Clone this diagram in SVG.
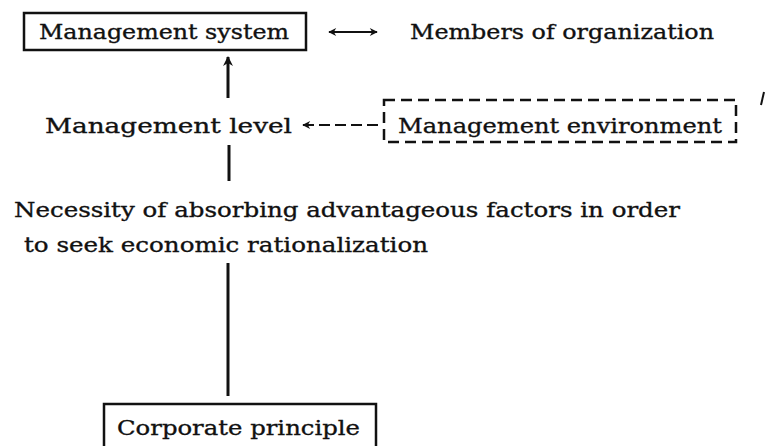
<svg xmlns="http://www.w3.org/2000/svg" width="770" height="446" viewBox="0 0 770 446">
<defs>
<style>
text{font-family:"DejaVu Serif","Liberation Serif",serif;font-size:21px;fill:#111;stroke:#111;stroke-width:0.35}
.box{fill:none;stroke:#111;stroke-width:2.5}
.dbox{fill:none;stroke:#111;stroke-width:2.5;stroke-dasharray:11 6}
.ln{stroke:#111;stroke-width:3;fill:none}
.dl{stroke:#111;stroke-width:2;stroke-dasharray:11 5;fill:none}
.thin{stroke:#111;stroke-width:2;fill:none}
</style>
<marker id="ah" viewBox="0 0 10 10" refX="9" refY="5" markerWidth="9" markerHeight="8" markerUnits="userSpaceOnUse" orient="auto-start-reverse">
<path d="M0,0 L10,5 L0,10 L3,5 z" fill="#111"/>
</marker>
<marker id="ahb" viewBox="0 0 10 10" refX="9" refY="5" markerWidth="13" markerHeight="10" markerUnits="userSpaceOnUse" orient="auto">
<path d="M0,0 L10,5 L0,10 L3,5 z" fill="#111"/>
</marker>
</defs>
<rect width="770" height="446" fill="#fff"/>
<g id="management-system">
<rect class="box" x="24" y="13" width="282" height="37"/>
<text x="39" y="39" textLength="250" lengthAdjust="spacingAndGlyphs">Management system</text>
</g>
<g id="members">
<text x="410" y="39" textLength="304" lengthAdjust="spacingAndGlyphs">Members of organization</text>
</g>
<g id="management-level">
<text x="45" y="133" textLength="247" lengthAdjust="spacingAndGlyphs">Management level</text>
</g>
<g id="management-environment">
<rect class="dbox" x="384" y="100" width="352" height="42"/>
<text x="398" y="133" textLength="324" lengthAdjust="spacingAndGlyphs">Management environment</text>
</g>
<g id="necessity">
<text x="14" y="217" textLength="666" lengthAdjust="spacingAndGlyphs">Necessity of absorbing advantageous factors in order</text>
<text x="24" y="252" textLength="404" lengthAdjust="spacingAndGlyphs">to seek economic rationalization</text>
</g>
<g id="corporate-principle">
<rect class="box" x="104" y="404" width="272" height="50"/>
<text x="117" y="435" textLength="243" lengthAdjust="spacingAndGlyphs">Corporate principle</text>
</g>
<g id="connectors">
<line class="thin" x1="329" y1="32" x2="377" y2="32" marker-start="url(#ah)" marker-end="url(#ah)"/>
<line class="ln" x1="228" y1="98" x2="228" y2="57" marker-end="url(#ahb)"/>
<line class="dl" x1="378" y1="125" x2="303" y2="125" marker-end="url(#ah)"/>
<line class="ln" x1="229" y1="145" x2="229" y2="181"/>
<line class="ln" x1="228" y1="263" x2="228" y2="396"/>
<path class="thin" d="M764,92 L761,105" stroke-width="2.5"/>
</g>
</svg>
